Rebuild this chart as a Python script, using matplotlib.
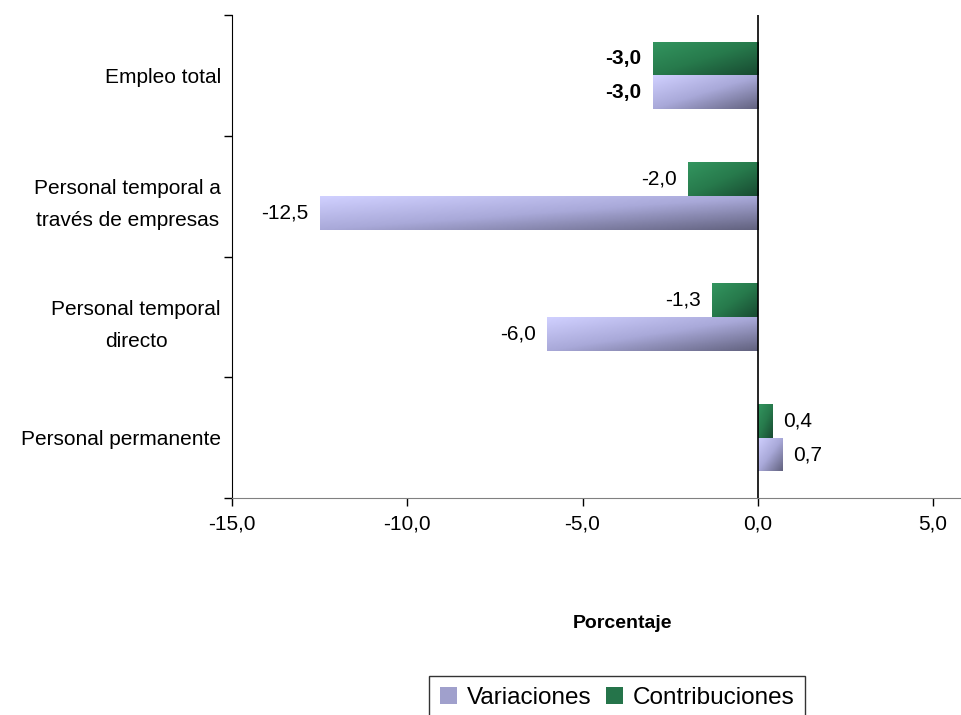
import numpy as np
import matplotlib.pyplot as plt
from matplotlib.colors import LinearSegmentedColormap
from matplotlib.patches import Patch

plt.rcParams['font.family'] = ['Liberation Sans', 'DejaVu Sans']

categorias = ['Empleo total', 'Personal temporal a\ntravés de empresas',
              'Personal temporal\ndirecto', 'Personal permanente']
variaciones = [-3.0, -12.5, -6.0, 0.7]
contribuciones = [-3.0, -2.0, -1.3, 0.4]
negrita = [True, False, False, False]
xticks = [-15, -10, -5, 0, 5]

cmap_var = LinearSegmentedColormap.from_list('var', ['#d0d0ff', '#a9a9d9', '#62627f'])
cmap_con = LinearSegmentedColormap.from_list('con', ['#33955f', '#277a4c', '#184a31'])

fig = plt.figure(figsize=(9.61, 7.15), dpi=100)
ax = fig.add_axes([232 / 961, 1 - 498 / 715, 728 / 961, 483 / 715])

h = 0.28
y = np.arange(len(categorias))

grad = np.add.outer(np.linspace(0, 1, 30), np.linspace(0, 1, 120)) / 2


def barras(vals, offs, cmap):
    bars = ax.barh(y + offs, vals, height=h, color='none', edgecolor='none')
    for b in bars:
        x0, y0 = b.get_x(), b.get_y()
        w, hh = b.get_width(), b.get_height()
        xl, xr = min(x0, x0 + w), max(x0, x0 + w)
        im = ax.imshow(grad, cmap=cmap, aspect='auto', origin='upper',
                       extent=(xl, xr, y0 + hh, y0), zorder=2)
        im.set_clip_path(b)
    return bars


barras(contribuciones, -h / 2, cmap_con)
barras(variaciones, h / 2, cmap_var)

for i in range(len(categorias)):
    fw = 'bold' if negrita[i] else 'normal'
    for v, off in [(contribuciones[i], -h / 2), (variaciones[i], h / 2)]:
        txt = ('%.1f' % v).replace('.', ',')
        if v < 0:
            ax.annotate(txt, (v, y[i] + off), xytext=(-8, 0), textcoords='offset points',
                        ha='right', va='center', fontsize=15, fontweight=fw)
        else:
            ax.annotate(txt, (v, y[i] + off), xytext=(8, 0), textcoords='offset points',
                        ha='left', va='center', fontsize=15, fontweight=fw)

ax.set_xlim(-15, 5.77)
ax.set_ylim(3.5, -0.5)
ax.axvline(0, color='black', lw=1.2, zorder=3)

ax.set_yticks(y)
ax.set_yticklabels(categorias, fontsize=15, ha='right', multialignment='center',
                   linespacing=1.85)
ax.set_yticks(np.arange(-0.5, 4, 1), minor=True)
ax.tick_params(axis='y', which='major', length=0, pad=8)
ax.tick_params(axis='y', which='minor', length=6, width=1, direction='out')

ax.set_xticks(xticks)
ax.set_xticklabels([('%.1f' % t).replace('.', ',') for t in xticks], fontsize=15)
ax.tick_params(axis='x', length=6, width=1, direction='out', pad=6)

for s in ['top', 'right']:
    ax.spines[s].set_visible(False)
ax.spines['bottom'].set_color('#808080')
ax.spines['left'].set_color('black')

fig.text(622 / 961, 1 - 624 / 715, 'Porcentaje', ha='center', va='center',
         fontsize=14, fontweight='bold')

handles = [Patch(facecolor='#a0a0cc'), Patch(facecolor='#25744a')]
leg = fig.legend(handles, ['Variaciones', 'Contribuciones'], loc='upper center',
                 bbox_to_anchor=(617 / 961, 1 - 676 / 715), ncol=2, fontsize=17.5,
                 frameon=True, fancybox=False, edgecolor='black', handlelength=0.7,
                 handleheight=0.7, handletextpad=0.4, columnspacing=0.6,
                 borderpad=0.45, borderaxespad=0)
leg.get_frame().set_linewidth(1)

fig.savefig('out.png', dpi=100)
